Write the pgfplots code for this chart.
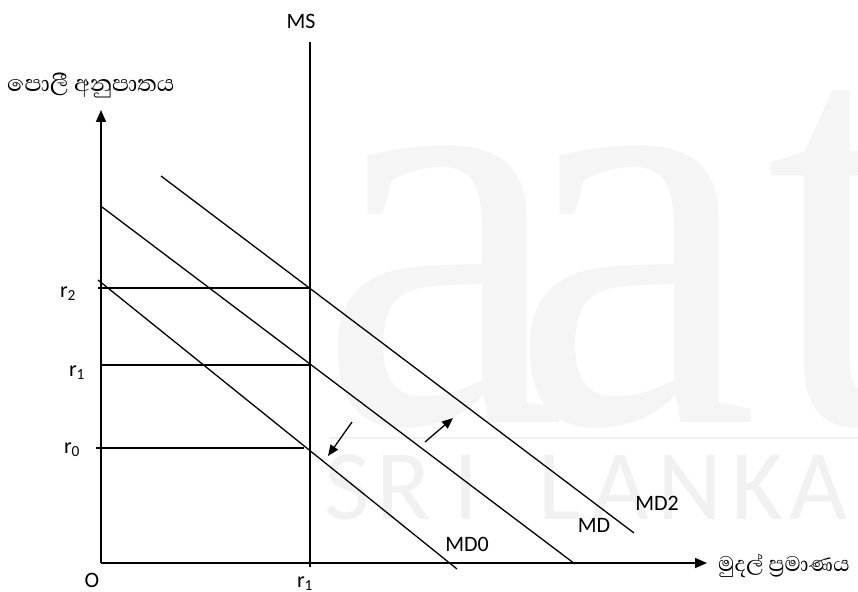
\documentclass[border=0pt]{standalone}
\usepackage{pgfplots}
\pgfplotsset{compat=1.18}
\usepackage{fontspec}
\usetikzlibrary{arrows.meta}
\setmainfont{Carlito}
\newfontfamily\sinhala[Script=Sinhala]{Abhaya Libre}
\newfontfamily\wmserif{Liberation Serif}
\definecolor{wm}{HTML}{F5F5F5}
\definecolor{wmtext}{HTML}{F1F1F1}

\begin{document}
\begin{tikzpicture}
\useasboundingbox (0,0) rectangle (858bp,592bp);
% faint watermark behind the diagram, in pixel coordinates
\begin{scope}[x=1bp, y=-1bp, yshift=592bp]
  \begin{scope}[every node/.style={inner sep=0pt, text=wm, anchor=base west, font=\fontsize{590bp}{590bp}\wmserif, xscale=0.95}]
    \node at (318,423) {a};
    \node at (510,423) {a};
    \node at (765,423) {t};
  \end{scope}
  \draw[wmtext, line width=2bp] (330,438) -- (858,438);
  \begin{scope}[every node/.style={inner sep=0pt, text=wmtext, anchor=base, font=\fontsize{100bp}{100bp}\selectfont}]
    \node at (347,520) {S};
    \node at (404,520) {R};
    \node at (466,520) {I};
    \node at (560,520) {L};
    \node at (620,520) {A};
    \node at (690,520) {N};
    \node at (757,520) {K};
    \node at (818,520) {A};
  \end{scope}
\end{scope}

\begin{axis}[
  scale only axis, width=858bp, height=592bp,
  xmin=0, xmax=858, ymin=0, ymax=592, y dir=reverse,
  hide axis, clip=false,
]
% axes
\addplot[black, line width=1.5bp, -{Triangle[length=12bp,width=10bp]}] coordinates {(101,563) (101,110)};
\addplot[black, line width=1.5bp, -{Triangle[length=12bp,width=10bp]}] coordinates {(101,563) (707,563)};

% money supply
\addplot[black, line width=1.3bp] coordinates {(310,42) (310,567)};
\addplot[black, line width=2.4bp] coordinates {(310,365) (310,563)};

% interest-rate levels
\addplot[black, line width=1.3bp] coordinates {(98,288) (310,288)};
\addplot[black, line width=1.3bp] coordinates {(101,365) (310,365)};
\addplot[black, line width=1.3bp] coordinates {(96,448) (304,448)};

% money demand curves
\addplot[black, line width=1.3bp] coordinates {(98,280) (457,569)};
\addplot[black, line width=1.3bp] coordinates {(102,207) (575,564)};
\addplot[black, line width=1.3bp] coordinates {(161,176) (634,533)};

% shift arrows
\addplot[black, line width=1.3bp, -{Triangle[length=11bp,width=9bp]}] coordinates {(352,422) (328,456)};
\addplot[black, line width=1.3bp, -{Triangle[length=11bp,width=9bp]}] coordinates {(425,442) (453,418)};

% labels
\begin{scope}[every node/.style={inner sep=0pt, font=\fontsize{22bp}{26bp}\selectfont}]
\node at (axis cs:301,21) {MS};
\node at (axis cs:467,544) {MD0};
\node at (axis cs:594,525) {MD};
\node at (axis cs:657,503) {MD2};
\node at (axis cs:92,580) {O};
\node at (axis cs:305,584) {r\textsubscript{1}};
\node at (axis cs:68,294) {r\textsubscript{2}};
\node at (axis cs:77,373) {r\textsubscript{1}};
\node at (axis cs:72,450) {r\textsubscript{0}};
\end{scope}
\node[anchor=west, inner sep=0pt, font=\fontsize{29bp}{32bp}\sinhala] at (axis cs:7,85) {පොලී අනුපාතය};
\node[anchor=west, inner sep=0pt, font=\fontsize{27bp}{30bp}\sinhala] at (axis cs:718,566) {මුදල් ප්^^^^200dරමාණය};
\end{axis}
\end{tikzpicture}
\end{document}
